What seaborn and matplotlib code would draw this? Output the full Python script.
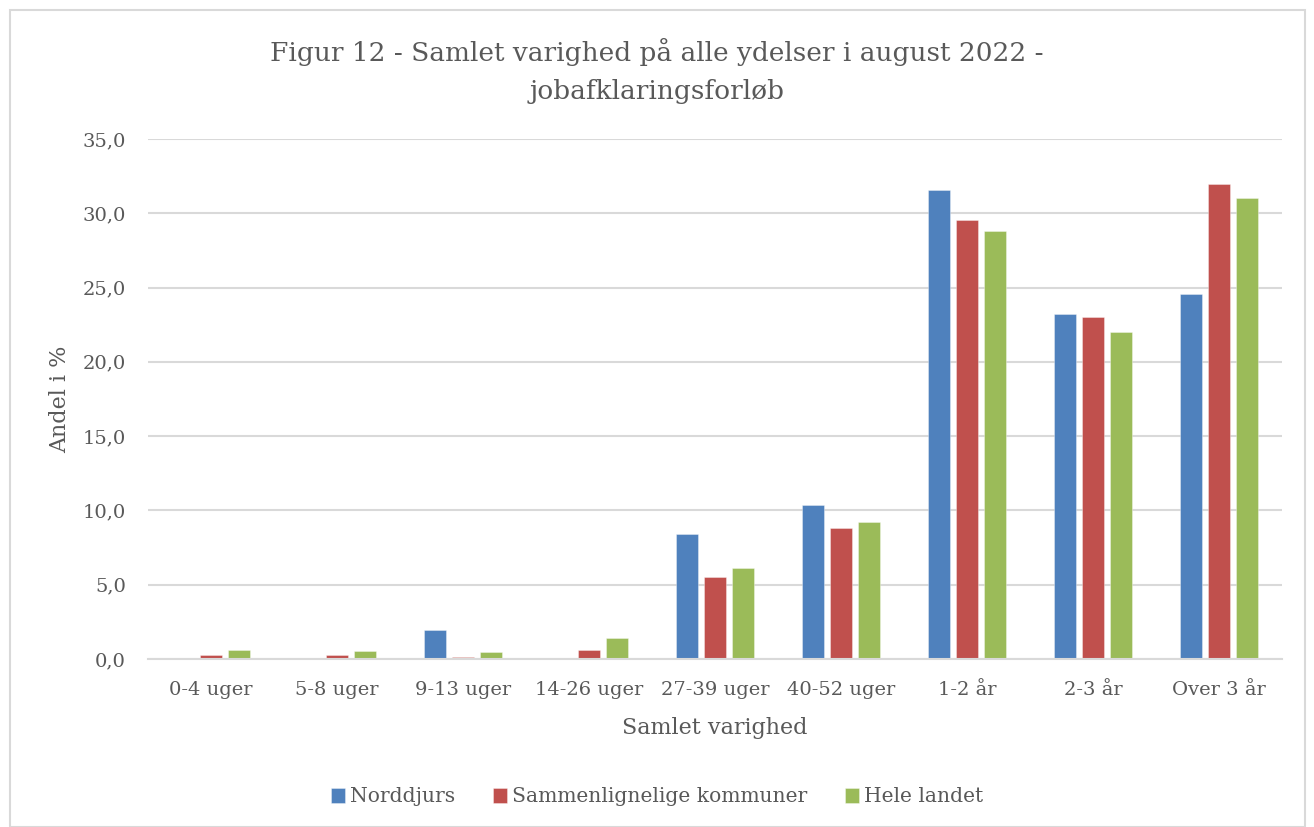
import matplotlib
matplotlib.use("Agg")
import matplotlib.pyplot as plt
import matplotlib.ticker as mticker
from matplotlib.patches import Rectangle
import seaborn as sns
import pandas as pd

categories = ["0-4 uger", "5-8 uger", "9-13 uger", "14-26 uger", "27-39 uger",
              "40-52 uger", "1-2 år", "2-3 år", "Over 3 år"]
series_names = ["Norddjurs", "Sammenlignelige kommuner", "Hele landet"]
norddjurs = [0.0, 0.0, 1.95, 0.0, 8.4, 10.35, 31.6, 23.25, 24.55]
sammenlignelige = [0.27, 0.25, 0.13, 0.6, 5.5, 8.8, 29.55, 23.05, 32.0]
hele_landet = [0.6, 0.55, 0.45, 1.4, 6.15, 9.25, 28.8, 22.0, 31.0]
colors = ["#4F81BD", "#C0504D", "#9BBB59"]
title_lines = ["Figur 12 - Samlet varighed på alle ydelser i august 2022 -", "jobafklaringsforløb"]

rows = []
for name, vals in zip(series_names, [norddjurs, sammenlignelige, hele_landet]):
    for c, v in zip(categories, vals):
        rows.append({"Samlet varighed": c, "Serie": name, "Andel": v})
df = pd.DataFrame(rows)

sns.set_theme(style="white")
plt.rcParams["font.family"] = ["DejaVu Serif"]
txt = "#595959"

fig = plt.figure(figsize=(13.14, 8.27), dpi=100)
fig.patches.append(Rectangle((10/1314, 0), 1295/1314, 817/827, transform=fig.transFigure,
                             fill=False, edgecolor="#D9D9D9", linewidth=1.5))
ax = fig.add_axes([148/1314, 1-659/827, (1282-148)/1314, (659-139)/827])

sns.barplot(data=df, x="Samlet varighed", y="Andel", hue="Serie", order=categories,
            hue_order=series_names, palette=colors, width=0.667, gap=0.2,
            edgecolor="#FFFFFF80", linewidth=0.5, ax=ax, saturation=1)

ax.set_ylim(0, 35)
ax.set_xlim(-0.5, len(categories)-0.5)
ax.yaxis.set_major_locator(mticker.MultipleLocator(5))
ax.yaxis.set_major_formatter(mticker.FuncFormatter(lambda v, p: f"{v:.1f}".replace(".", ",")))
ax.grid(axis="y", color="#D9D9D9", linewidth=1.5)
ax.set_axisbelow(True)
for s in ["top", "right", "left"]:
    ax.spines[s].set_visible(False)
ax.spines["bottom"].set_color("#D9D9D9")
ax.spines["bottom"].set_linewidth(1.5)
ax.tick_params(axis="x", length=0, labelsize=14, colors=txt, pad=16)
ax.tick_params(axis="y", length=0, labelsize=14, colors=txt, pad=16)
ax.set_xlabel("Samlet varighed", fontsize=16, color=txt, labelpad=13)
ax.set_ylabel("Andel i %", fontsize=16, color=txt, labelpad=8)

for i, line in enumerate(title_lines):
    fig.text(0.5, 1-(52+40*i)/827, line, ha="center", va="center", fontsize=19, color=txt)

ax.legend_.remove()
handles, labels = ax.get_legend_handles_labels()
fig.legend(handles, labels, loc="center", bbox_to_anchor=(0.5, 1-797/827), ncol=3, frameon=False,
           fontsize=14.6, labelcolor=txt, handlelength=0.7, handleheight=0.7, handletextpad=0.25,
           columnspacing=1.85)

fig.savefig("out.png", dpi=100, facecolor="white")
